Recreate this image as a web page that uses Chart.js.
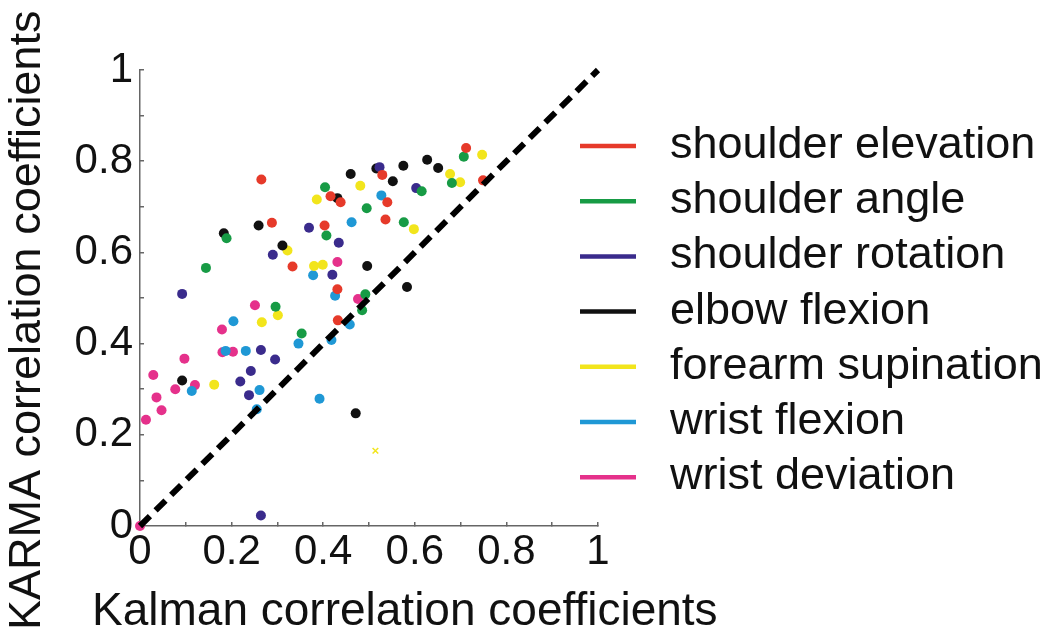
<!DOCTYPE html>
<html>
<head>
<meta charset="utf-8">
<script src="https://cdn.jsdelivr.net/npm/chart.js@4.4.1/dist/chart.umd.min.js"></script>
<style>
  html, body { margin: 0; padding: 0; background: #ffffff; }
  #wrap { width: 1050px; height: 635px; position: relative; }
</style>
</head>
<body>
<div id="wrap"><canvas id="c" width="1050" height="635"></canvas></div>
<script>
// ---- Data: [Kalman r, KARMA r] pairs per joint ----
const seriesLabels = ["shoulder elevation", "shoulder angle", "shoulder rotation", "elbow flexion", "forearm supination", "wrist flexion", "wrist deviation"];

const shoulderElevation = [[0.265,0.760],[0.288,0.665],[0.333,0.569],[0.712,0.829],[0.529,0.770],[0.749,0.758],[0.416,0.723],[0.438,0.710],[0.540,0.710],[0.536,0.672],[0.403,0.659],[0.431,0.519],[0.432,0.451]];
const shoulderAngle = [[0.189,0.631],[0.144,0.566],[0.296,0.481],[0.707,0.810],[0.681,0.752],[0.404,0.743],[0.615,0.734],[0.495,0.697],[0.576,0.666],[0.407,0.637],[0.492,0.508],[0.485,0.473],[0.353,0.422]];
const shoulderRotation = [[0.369,0.654],[0.290,0.595],[0.092,0.509],[0.523,0.787],[0.603,0.741],[0.434,0.621],[0.420,0.551],[0.264,0.386],[0.295,0.365],[0.242,0.340],[0.219,0.317],[0.238,0.287],[0.264,0.023]];
const elbowFlexion = [[0.259,0.659],[0.183,0.642],[0.311,0.615],[0.627,0.803],[0.651,0.785],[0.516,0.784],[0.575,0.790],[0.460,0.772],[0.552,0.756],[0.431,0.719],[0.496,0.570],[0.583,0.524],[0.092,0.319],[0.471,0.247]];
const forearmSupination = [[0.322,0.604],[0.301,0.462],[0.266,0.447],[0.747,0.814],[0.677,0.772],[0.699,0.754],[0.481,0.746],[0.386,0.716],[0.598,0.651],[0.380,0.570],[0.399,0.573],[0.162,0.310]];
const forearmSupinationCross = [[0.514,0.165]];
const wristFlexion = [[0.204,0.449],[0.527,0.725],[0.462,0.666],[0.378,0.550],[0.426,0.505],[0.458,0.442],[0.346,0.400],[0.187,0.384],[0.231,0.384],[0.113,0.296],[0.261,0.298],[0.255,0.256],[0.392,0.279],[0.418,0.408]];
const wristDeviation = [[0.251,0.484],[0.179,0.431],[0.431,0.579],[0.476,0.498],[0.097,0.367],[0.180,0.381],[0.203,0.382],[0.029,0.331],[0.120,0.309],[0.077,0.300],[0.036,0.282],[0.047,0.254],[0.013,0.233],[0.000,0.000]];
const identityLine = [[0,0],[1,1]];
const tickValues = [0, 0.2, 0.4, 0.6, 0.8, 1];

const axisTitleX = "Kalman correlation coefficients";
const axisTitleY = "KARMA correlation coefficients";

// ---- Styles ----
const palette = ["#e63a2a", "#179b45", "#3a2b8c", "#111111", "#f2e51c", "#1f98d5", "#e5318b"];
const FONT = "'Liberation Sans', Arial, Helvetica, sans-serif";

const toXY = arr => arr.map(p => ({ x: p[0], y: p[1] }));
const seriesData = [shoulderElevation, shoulderAngle, shoulderRotation, elbowFlexion, forearmSupination, wristFlexion, wristDeviation];

const datasets = [];
datasets.push({
  type: 'line',
  label: 'identity',
  data: toXY(identityLine),
  borderColor: '#000000',
  borderWidth: 6,
  borderDash: [14, 8],
  pointRadius: 0,
  fill: false,
  order: -1,
  clip: false
});
seriesData.forEach((d, i) => {
  datasets.push({
    type: 'scatter',
    label: seriesLabels[i],
    data: toXY(d),
    backgroundColor: palette[i],
    borderColor: palette[i],
    borderWidth: 0,
    pointRadius: 5,
    pointHoverRadius: 5,
    pointStyle: 'circle',
    clip: false
  });
});
datasets.push({
  type: 'scatter',
  label: 'forearm supination (x)',
  data: toXY(forearmSupinationCross),
  backgroundColor: palette[4],
  borderColor: palette[4],
  borderWidth: 1.5,
  pointRadius: 4,
  pointStyle: 'crossRot',
  clip: false
});

const tickFmt = v => {
  const t = Math.round(v * 10);
  if (tickValues.some(tv => Math.round(tv * 10) === t)) return String(t / 10);
  return '';
};

const customDecor = {
  id: 'customDecor',
  afterDraw(chart) {
    const ctx = chart.ctx;
    ctx.save();
    // legend
    const x0 = 580, x1 = 636, tx = 670, y0 = 146, dy = 55.2;
    ctx.font = "45px " + FONT;
    ctx.textAlign = 'left';
    ctx.textBaseline = 'alphabetic';
    seriesLabels.forEach((lab, i) => {
      const y = y0 + i * dy;
      ctx.strokeStyle = palette[i];
      ctx.lineWidth = 4.5;
      ctx.beginPath();
      ctx.moveTo(x0, y);
      ctx.lineTo(x1, y);
      ctx.stroke();
      ctx.fillStyle = '#111111';
      ctx.fillText(lab, tx, y + 12);
    });
    // axis titles
    ctx.fillStyle = '#111111';
    ctx.font = "46px " + FONT;
    ctx.fillText(axisTitleX, 92, 625);
    ctx.save();
    ctx.translate(40, 630);
    ctx.rotate(-Math.PI / 2);
    ctx.font = "45px " + FONT;
    ctx.fillText(axisTitleY, 0, 0);
    ctx.restore();
    ctx.restore();
  }
};

const axisColor = '#666666';
const commonScale = {
  type: 'linear',
  min: 0,
  max: 1,
  grid: { display: true, drawOnChartArea: false, drawTicks: true, tickLength: -4, color: axisColor, lineWidth: 1.5 },
  border: { display: true, color: axisColor, width: 1.5 },
  ticks: {
    stepSize: 0.1,
    autoSkip: false,
    maxRotation: 0,
    minRotation: 0,
    color: '#111111',
    font: { family: FONT, size: 42 },
    callback: tickFmt
  }
};

new Chart(document.getElementById('c'), {
  data: { datasets },
  options: {
    responsive: false,
    animation: false,
    devicePixelRatio: 1,
    layout: { padding: { left: 0, top: 70, right: 452, bottom: 0 } },
    plugins: { legend: { display: false }, tooltip: { enabled: false }, title: { display: false } },
    scales: {
      x: Object.assign({}, commonScale, {
        position: 'bottom',
        ticks: Object.assign({}, commonScale.ticks, { padding: 5 }),
        afterFit(scale) { scale.height = 109; }
      }),
      y: Object.assign({}, commonScale, {
        position: 'left',
        ticks: Object.assign({}, commonScale.ticks, { padding: 11 }),
        afterFit(scale) { scale.width = 140; }
      })
    }
  },
  plugins: [customDecor]
});
</script>
</body>
</html>
